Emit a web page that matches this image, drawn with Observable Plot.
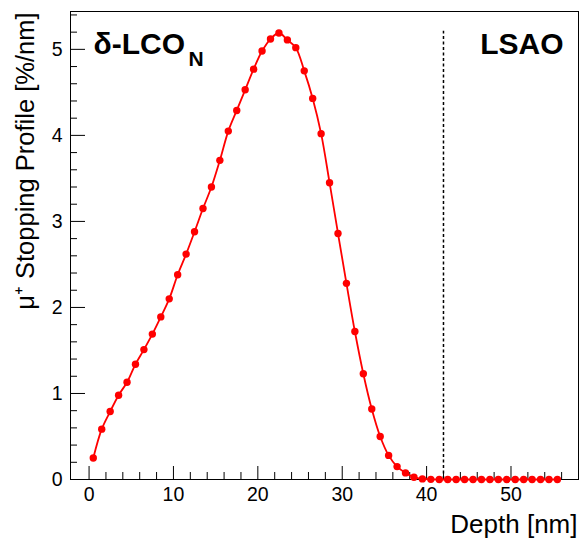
<!DOCTYPE html>
<html><head><meta charset="utf-8">
<script src="https://cdn.jsdelivr.net/npm/d3@7"></script>
<script src="https://cdn.jsdelivr.net/npm/@observablehq/plot@0.6"></script>
<style>
body{margin:0;background:#fff}
svg{font-family:"Liberation Sans",Arial,Helvetica,sans-serif}
</style>
</head><body><div id="chart"></div>
<script>
const depth = [0.5,1.5,2.5,3.5,4.5,5.5,6.5,7.5,8.5,9.5,10.5,11.5,12.5,13.5,14.5,15.5,16.5,17.5,18.5,19.5,
  20.5,21.5,22.5,23.5,24.5,25.5,26.5,27.5,28.5,29.5,30.5,31.5,32.5,33.5,34.5,35.5,36.5,37.5,38.5,39.5,
  40.5,41.5,42.5,43.5,44.5,45.5,46.5,47.5,48.5,49.5,50.5,51.5,52.5,53.5,54.5,55.5];
const stopping = [0.25,0.585,0.79,0.98,1.13,1.34,1.51,1.69,1.89,2.10,2.38,2.62,2.88,3.15,3.40,3.71,4.05,4.29,4.53,4.77,
  4.98,5.12,5.19,5.11,5.02,4.75,4.43,4.02,3.45,2.86,2.28,1.72,1.23,0.82,0.50,0.28,0.15,0.077,0.027,0.007,
  0.002,0,0,0,0,0,0,0,0,0,0,0,0,0,0,0];
const xMajorTicks = [0,10,20,30,40,50];
const xMinorTicks = [2,4,6,8,12,14,16,18,22,24,26,28,32,34,36,38,42,44,46,48,52,54,56];
const yMajorTicks = [0,1,2,3,4,5];
const yMinorTicks = [0.2,0.4,0.6,0.8,1.2,1.4,1.6,1.8,2.2,2.4,2.6,2.8,3.2,3.4,3.6,3.8,4.2,4.4,4.6,4.8,5.2,5.4];
const xDomain = [-2.2, 58];
const yDomain = [0, 5.44];
const interfaceDepth = [42];
const interfaceTop = 5.21;
const xTitle = "Depth [nm]";
const yTitle = "μ⁺ Stopping Profile [%/nm]";
const leftLabel = "δ-LCO";
const leftLabelSub = "N";
const rightLabel = "LSAO";

const data = depth.map((d, i) => ({depth: d, value: stopping[i]}));

const chart = Plot.plot({
  width: 582, height: 543,
  marginLeft: 70, marginRight: 4, marginTop: 11, marginBottom: 64,
  style: {fontFamily: '"Liberation Sans",Arial,Helvetica,sans-serif', color: "#000", background: "#fff"},
  x: {domain: xDomain, label: null},
  y: {domain: yDomain, label: null},
  marks: [
    Plot.axisX(xMinorTicks, {tickSize: -7, text: null, stroke: "#000"}),
    Plot.axisX(xMajorTicks, {tickSize: -13, tickPadding: 21, fontSize: 19.5, stroke: "#000", fill: "#000", tickFormat: d => String(d)}),
    Plot.axisY(yMinorTicks, {tickSize: -7, text: null, stroke: "#000"}),
    Plot.axisY(yMajorTicks, {tickSize: -15, tickPadding: 23, fontSize: 19.5, stroke: "#000", fill: "#000", tickFormat: d => String(d)}),
    Plot.frame({stroke: "#000", strokeWidth: 1}),
    Plot.ruleX(interfaceDepth, {x: d => d, y1: 0, y2: interfaceTop, stroke: "#000", strokeWidth: 1.5, strokeDasharray: "3,2.5"}),
    Plot.line(data, {x: "depth", y: "value", curve: "catmull-rom", stroke: "#ff0000", strokeWidth: 1.8}),
    Plot.dot(data, {x: "depth", y: "value", r: 3.7, fill: "#ff0000", stroke: null}),
    Plot.text([leftLabel], {text: d => d, frameAnchor: "top-left", textAnchor: "start", lineAnchor: "bottom", dx: 23, dy: 42, fontSize: 30, fontWeight: "bold", fill: "#000"}),
    Plot.text([leftLabelSub], {text: d => d, frameAnchor: "top-left", textAnchor: "start", lineAnchor: "bottom", dx: 118, dy: 54, fontSize: 21, fontWeight: "bold", fill: "#000"}),
    Plot.text([rightLabel], {text: d => d, frameAnchor: "top-right", textAnchor: "end", lineAnchor: "bottom", dx: -15, dy: 42, fontSize: 30, fontWeight: "bold", fill: "#000"}),
    Plot.text([xTitle], {text: d => d, frameAnchor: "bottom-right", textAnchor: "end", lineAnchor: "bottom", dx: -1, dy: 53, fontSize: 26, fill: "#000"}),
    Plot.text([yTitle], {text: d => d, frameAnchor: "top-left", textAnchor: "end", lineAnchor: "bottom", rotate: -90, dx: -37, dy: 1, fontSize: 25.5, fill: "#000"})
  ]
});
document.getElementById("chart").appendChild(chart);
</script>
</body></html>
